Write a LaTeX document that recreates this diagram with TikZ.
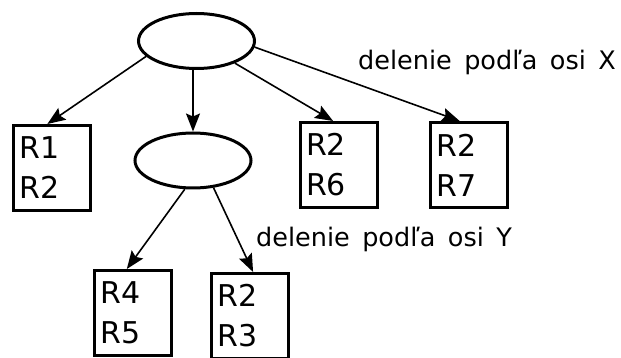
\documentclass[tikz,border=0pt]{standalone}
\usepackage{fontspec}
\setmainfont{DejaVu Sans}
\usepackage{tikz}
\usetikzlibrary{arrows.meta}
\usetikzlibrary{shapes.geometric}

\begin{document}
\begin{tikzpicture}[x=1pt, y=1pt,
    split/.style={draw=black, line width=3pt, ellipse,
      minimum width=116pt, minimum height=55pt, inner sep=0pt},
    leaf/.style={draw=black, line width=3pt, rectangle,
      minimum width=77pt, minimum height=85pt, text width=65pt,
      inner sep=0pt, align=left, font=\fontsize{30}{40}\selectfont},
    edge/.style={line width=1.6pt, -{Stealth[length=18pt, width=14pt, inset=3pt]}},
    axis/.style={anchor=base west, inner sep=0pt,
      font=\fontsize{25.5}{30}\selectfont,
      execute at begin node={\spaceskip=12.5pt\relax}}]
    \useasboundingbox (0,0) rectangle (621,-358);

    % inner nodes of the tree
    \node[split] (top) at (196.5,-41) {};
    \node[split] (mid) at (193,-160.5) {};

    % leaves
    \node[leaf] (r12) at (52,-168) {R1\\R2};
    \node[leaf] (r26) at (338.5,-165) {R2\\R6};
    \node[leaf] (r27) at (469,-165) {R2\\R7};
    \node[leaf] (r45) at (133,-313) {R4\\R5};
    \node[leaf] (r23) at (250,-316) {R2\\R3};

    % splits along X
    \draw[edge] (top.197) -- (r12.96);
    \draw[edge] (top.south -| mid.north) -- (mid.north);
    \draw[edge] (top.330) -- (r26.97);
    \draw[edge] (top.354) -- (r27.102);
    % splits along Y
    \draw[edge] (mid.254) -- (r45.98);
    \draw[edge] (mid.307) -- (r23.86);

    \node[axis] (labx) at (358,-70) {delenie podľa osi X};
    \node[axis] (laby) at (256,-247) {delenie podľa osi Y};
\end{tikzpicture}
\end{document}
